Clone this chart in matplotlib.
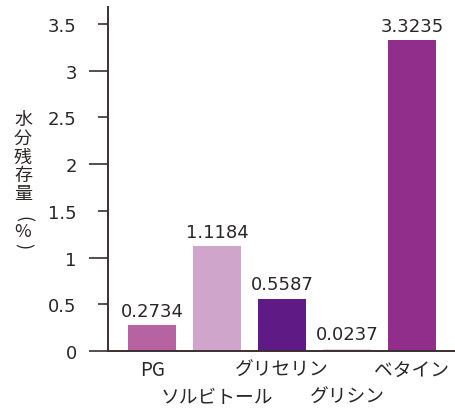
import matplotlib.pyplot as plt

plt.rcParams['font.family'] = ['DejaVu Sans', 'Noto Sans CJK JP']

# Residual moisture per humectant (%)
names = ['PG', 'ソルビトール', 'グリセリン', 'グリシン', 'ベタイン']
values = [0.2734, 1.1184, 0.5587, 0.0237, 3.3235]
labels = ['0.2734', '1.1184', '0.5587', '0.0237', '3.3235']
colors = ['#b763a1', '#cfa5cb', '#5f1a86', '#e6d3e7', '#912e8c']
major_ticks = [0, 1, 2, 3]
major_labels = ['0', '1', '2', '3']
minor_ticks = [0.5, 1.5, 2.5, 3.5]
minor_labels = ['0.5', '1.5', '2.5', '3.5']

axis_col = '#3a3030'
text_col = '#2b2626'

fig = plt.figure(figsize=(4.56, 4.10), dpi=100)
ax = fig.add_axes([0.2368, 0.1415, 0.7632, 0.839])

x = range(len(values))
ax.bar(x, values, width=0.74, color=colors)
for i, (v, lab) in enumerate(zip(values, labels)):
    ax.annotate(lab, (i, v), xytext=(0, 4), textcoords='offset points',
                ha='center', va='bottom', fontsize=13, color=text_col)

ax.set_xlim(-0.68, 4.68)
ax.set_ylim(0, 3.68)

# integer ticks long, half-unit ticks short, all labels flush at the same x
ax.set_yticks(major_ticks)
ax.set_yticklabels(major_labels)
ax.set_yticks(minor_ticks, minor=True)
ax.set_yticklabels(minor_labels, minor=True)
ax.tick_params(axis='y', which='major', direction='out', length=14, width=1.2,
               color=axis_col, labelsize=13, labelcolor=text_col, pad=8.5)
ax.tick_params(axis='y', which='minor', direction='out', length=7.5, width=1.2,
               color=axis_col, labelsize=13, labelcolor=text_col, pad=15)

# staggered category names under the axis
ax.set_xticks([])
for i, name in enumerate(names):
    row = 0 if i % 2 == 0 else 1
    ax.annotate(name, (i, 0), xycoords=('data', 'axes fraction'),
                xytext=(0, -6 - row * 19), textcoords='offset points',
                ha='center', va='top', fontsize=13.5, color=text_col,
                family=['Noto Sans CJK JP', 'DejaVu Sans'])

for side in ['top', 'right']:
    ax.spines[side].set_visible(False)
for side in ['left', 'bottom']:
    ax.spines[side].set_color(axis_col)
    ax.spines[side].set_linewidth(1.4)

# vertical y-axis title, one character per line; brackets turned sideways
ylabel_chars = ['水', '分', '残', '存', '量', '(', '%', ')']
ylabel_pos = [120, 139, 158, 176, 194, 219, 232, 246]
ylabel_rot = [0, 0, 0, 0, 0, -90, 0, -90]
for ch, py, rot in zip(ylabel_chars, ylabel_pos, ylabel_rot):
    fig.text(23 / 456, 1 - py / 410, ch, ha='center', va='center',
             fontsize=13, color=text_col, rotation=rot,
             family=['Noto Sans CJK JP', 'DejaVu Sans'])

fig.savefig('out.png', dpi=100)
